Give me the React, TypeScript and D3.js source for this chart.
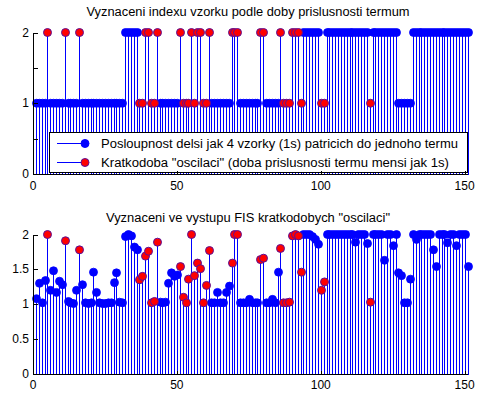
import React from 'react';
import * as d3 from 'd3';

// term index (1 or 2) of every sample, top panel
const termValues = [
  1, 1, 1, 1, 2, 1, 1, 1, 1, 1, 2, 1, 1, 1, 1, 2, 1, 1, 1, 1,
  1, 1, 1, 1, 1, 1, 1, 1, 1, 1, 1, 2, 2, 2, 2, 2, 1, 1, 2, 2,
  1, 1, 2, 1, 1, 1, 1, 1, 1, 1, 2, 1, 1, 1, 2, 1, 2, 2, 1, 1,
  2, 1, 1, 1, 1, 1, 1, 1, 2, 2, 2, 1, 1, 1, 1, 1, 1, 1, 2, 2,
  1, 1, 1, 1, 1, 2, 1, 1, 1, 2, 2, 2, 1, 2, 2, 2, 2, 2, 2, 1,
  1, 2, 2, 2, 2, 2, 2, 2, 2, 2, 2, 2, 2, 2, 2, 2, 1, 2, 2, 2,
  2, 2, 2, 2, 2, 2, 1, 1, 1, 1, 1, 2, 2, 2, 2, 2, 2, 2, 2, 2,
  2, 2, 2, 2, 2, 2, 2, 2, 2, 2, 2,
];

// FIS output of every sample, bottom panel
const fisValues = [
  1.08, 1.30, 1.02, 1.34, 2.00, 1.20, 1.48, 1.17, 1.33, 1.28,
  1.91, 1.04, 1.02, 1.01, 1.20, 1.78, 1.28, 1.02, 1.01, 1.02,
  1.46, 1.17, 1.02, 1.01, 1.01, 1.02, 1.02, 1.31, 1.45, 1.03,
  1.02, 1.97, 2.00, 1.98, 1.82, 1.78, 1.35, 1.40, 1.69, 1.76,
  1.02, 1.04, 1.89, 1.03, 1.02, 1.03, 1.30, 1.45, 1.40, 1.42,
  1.54, 1.10, 1.02, 1.36, 2.00, 1.41, 1.59, 1.51, 1.02, 1.27,
  1.77, 1.02, 1.02, 1.17, 1.02, 1.02, 1.17, 1.26, 1.59, 2.00,
  2.00, 1.02, 1.02, 1.02, 1.07, 1.02, 1.02, 1.02, 1.64, 1.66,
  1.02, 1.02, 1.07, 1.02, 1.46, 1.80, 1.02, 1.02, 1.03, 1.98,
  2.00, 1.98, 1.46, 2.00, 2.00, 2.00, 1.97, 1.93, 1.86, 1.20,
  1.32, 2.00, 2.00, 2.00, 2.00, 2.00, 2.00, 2.00, 2.00, 2.00,
  2.00, 1.89, 2.00, 2.00, 2.00, 1.87, 1.03, 2.00, 2.00, 2.00,
  2.00, 1.63, 2.00, 2.00, 1.84, 2.00, 1.45, 1.41, 1.02, 1.02,
  1.36, 2.00, 1.93, 2.00, 2.00, 2.00, 2.00, 2.00, 1.78, 1.54,
  2.00, 2.00, 2.00, 1.88, 2.00, 2.00, 1.84, 2.00, 2.00, 2.00,
  1.54,
];

// samples belonging to a short "oscillation" (red markers)
const shortIndices = [
  5, 11, 16, 37, 38, 39, 40, 41, 42, 43, 51, 52, 53, 54, 55, 56, 57, 58, 59, 60,
  61, 69, 70, 71, 79, 80, 86, 87, 88, 89, 90, 91, 92, 93, 100, 101, 117,
];

const xTicks = [0, 50, 100, 150];
const yTicks = [0, 0.5, 1, 1.5, 2];
const topYLabels = ['0', '', '1', '', '2'];
const bottomYLabels = ['0', '0.5', '1', '1.5', '2'];
const topTitle = 'Vyznaceni indexu vzorku podle doby prislusnosti termum';
const bottomTitle = 'Vyznaceni ve vystupu FIS kratkodobych "oscilaci"';
const legendLabels = [
  'Posloupnost delsi jak 4 vzorky (1s) patricich do jednoho termu',
  'Kratkodoba "oscilaci" (doba prislusnosti termu mensi jak 1s)',
];

const W = 485;
const H = 397;
const FONT = '"Liberation Sans", Arial, Helvetica, sans-serif';
const BLUE = '#0000ff';
const RED = '#ff0000';
const EDGE = '#5a109a';
const R = 4;

const x = d3.scaleLinear().domain([0, 151]).range([33, 467.5]);
const shortSet = new Set(shortIndices);

type PanelProps = {
  values: number[];
  yTop: number;
  yBottom: number;
  yLabels: string[];
  title: string;
  titleY: number;
  titleW: number;
  labelY: number;
  legend?: boolean;
};

const legendWidths = [357, 348];

const Panel = ({ values, yTop, yBottom, yLabels, title, titleY, titleW, labelY, legend }: PanelProps) => {
  const y = d3.scaleLinear().domain([0, 2]).range([yBottom, yTop]);
  const pts = values.map((v, k) => ({ i: k + 1, v, short: shortSet.has(k + 1) }));
  const px = (i: number) => Math.round(x(i)) + 0.5;
  const x0 = Math.round(x(0)) + 0.5;
  const x1 = x(151);
  const yb = Math.round(yBottom) + 0.5;

  return (
    <g>
      <text x={248} y={titleY} textAnchor="middle" fontSize={12.5} fontFamily={FONT}
        textLength={titleW} lengthAdjust="spacingAndGlyphs">
        {title}
      </text>
      <g shapeRendering="crispEdges">
        {pts.map((d) => (
          <line key={'s' + d.i} x1={px(d.i)} x2={px(d.i)} y1={yb} y2={y(d.v)} stroke={BLUE} strokeWidth={1} />
        ))}
      </g>
      {pts.filter((d) => !d.short).map((d) => (
        <circle key={'b' + d.i} cx={px(d.i)} cy={y(d.v)} r={R} fill={BLUE} stroke={BLUE} strokeWidth={0.8} />
      ))}
      {pts.filter((d) => d.short).map((d) => (
        <circle key={'r' + d.i} cx={px(d.i)} cy={y(d.v)} r={R} fill={RED} stroke={EDGE} strokeWidth={1} />
      ))}
      {legend && (
        <g>
          <rect x={49.5} y={132.5} width={417.5} height={40} fill="#fff" stroke="#000" strokeWidth={1} shapeRendering="crispEdges" />
          {legendLabels.map((lab, k) => {
            const ly = 143.5 + k * 19;
            return (
              <g key={lab}>
                <line x1={57} x2={85} y1={ly} y2={ly} stroke={BLUE} strokeWidth={1} />
                <circle cx={85} cy={ly} r={R} fill={k === 0 ? BLUE : RED} stroke={k === 0 ? BLUE : EDGE} strokeWidth={1} />
                <text x={101} y={ly + 4.5} fontSize={12.5} fontFamily={FONT}
                  textLength={legendWidths[k]} lengthAdjust="spacingAndGlyphs">{lab}</text>
              </g>
            );
          })}
        </g>
      )}
      <g shapeRendering="crispEdges" stroke="#000" strokeWidth={1}>
        <line x1={x0} x2={x0} y1={Math.round(yTop)} y2={yb} />
        <line x1={x0} x2={x1} y1={yb} y2={yb} />
        {xTicks.map((t) => (
          <line key={'xt' + t} x1={px(t)} x2={px(t)} y1={yb} y2={yb - 4} />
        ))}
        {yTicks.map((t) => (
          <line key={'yt' + t} x1={x0} x2={x0 + 4} y1={Math.round(y(t)) + 0.5} y2={Math.round(y(t)) + 0.5} />
        ))}
      </g>
      {xTicks.map((t) => (
        <text key={'xl' + t} x={x(t)} y={labelY} textAnchor="middle" fontSize={12} fontFamily={FONT}>
          {t}
        </text>
      ))}
      {yTicks.map((t, k) => (
        <text key={'yl' + t} x={29} y={y(t) + 4} textAnchor="end" fontSize={12} fontFamily={FONT}>
          {yLabels[k]}
        </text>
      ))}
    </g>
  );
};

export default function App() {
  return (
    <svg width={W} height={H} style={{ position: 'absolute', left: 0, top: 0, background: '#fff' }}>
      <rect width={W} height={H} fill="#fff" />
      <Panel values={termValues} yTop={32.5} yBottom={174} yLabels={topYLabels} title={topTitle}
        titleY={16} titleW={323} labelY={190} legend />
      <Panel values={fisValues} yTop={234.5} yBottom={374} yLabels={bottomYLabels} title={bottomTitle}
        titleY={222} titleW={284} labelY={389} />
    </svg>
  );
}
